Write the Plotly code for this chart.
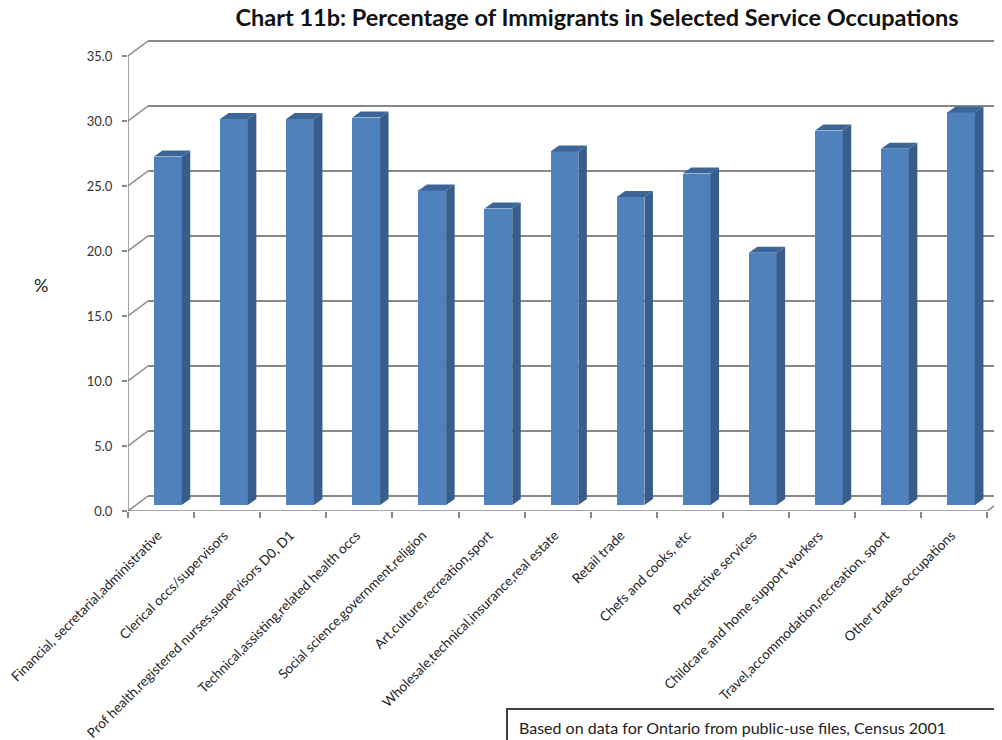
import plotly.graph_objects as go

categories = [
    "Financial, secretarial,administrative",
    "Clerical occs/supervisors",
    "Prof health,registered nurses,supervisors D0, D1",
    "Technical,assisting,related health occs",
    "Social science,government,religion",
    "Art,culture,recreation,sport",
    "Wholesale,technical,insurance,real estate",
    "Retail trade",
    "Chefs and cooks, etc",
    "Protective services",
    "Childcare and home support workers",
    "Travel,accommodation,recreation, sport",
    "Other trades occupations",
]
values = [26.8, 29.7, 29.7, 29.8, 24.2, 22.8, 27.2, 23.7, 25.5, 19.4, 28.8, 27.4, 30.2]
y_ticks = [0, 5, 10, 15, 20, 25, 30, 35]
y_tick_labels = ["0.0", "5.0", "10.0", "15.0", "20.0", "25.0", "30.0", "35.0"]

# page offset (browser body margin) and geometry
O = 8
W, H = 1002 - O, 740 - O
ML = 128 - O
MR = 0
MT = 38 - O
MB = H - (511 - O)
PW, PH = W - ML - MR, H - MT - MB
PX_X = 66.1          # px per category slot
PX_Y = 13.0          # px per percentage point
XMAX = PW / PX_X
YMAX = PH / PX_Y
DX, DY = 20 / PX_X, 15 / PX_Y          # back-wall offset
BASE = 6 / PX_Y                         # bar front-face base (mid depth)
BW = 0.42                               # bar width (slots)
BOFF = 0.603                            # bar centre within slot
DDX, DDY = 8.5 / PX_X, 6 / PX_Y         # bar depth
N = len(categories)


def px_to_paper_x(sx):
    return (sx - O - ML) / PW


def px_to_paper_y(sy):
    return (H - MB - (sy - O)) / PH


GRID = "#888888"
FRONT = "#4F81BD"
SIDE = "#385D8A"
TOP = "#3D6698"

fig = go.Figure()

# front faces
xc = [i + BOFF for i in range(N)]
fig.add_trace(go.Bar(
    x=xc, y=values, base=[BASE] * N, width=BW,
    marker=dict(color=FRONT, line=dict(width=0)),
    hoverinfo="skip", showlegend=False,
))

# side and top faces
sx, sy, tx, ty = [], [], [], []
for c, v in zip(xc, values):
    xl, xr = c - BW / 2, c + BW / 2
    top = BASE + v
    sx += [xr, xr + DDX, xr + DDX, xr, xr, None]
    sy += [BASE, BASE + DDY, top + DDY, top, BASE, None]
    tx += [xl, xl + DDX, xr + DDX, xr, xl, None]
    ty += [top, top + DDY, top + DDY, top, top, None]
fig.add_trace(go.Scatter(x=sx, y=sy, fill="toself", fillcolor=SIDE, mode="lines",
                         line=dict(width=0, color=SIDE), hoverinfo="skip", showlegend=False))
fig.add_trace(go.Scatter(x=tx, y=ty, fill="toself", fillcolor=TOP, mode="lines",
                         line=dict(width=0, color=TOP), hoverinfo="skip", showlegend=False))

# walls / grid (below traces)
shapes = []
for v in y_ticks:
    shapes.append(dict(type="line", xref="x", yref="y", x0=0, y0=v, x1=DX, y1=v + DY,
                       line=dict(color=GRID, width=1.5), layer="below"))
    shapes.append(dict(type="line", xref="x", yref="y", x0=DX, y0=v + DY, x1=XMAX + 1, y1=v + DY,
                       line=dict(color=GRID, width=2), layer="below"))
# front axes
shapes.append(dict(type="line", xref="x", yref="y", x0=0, y0=0, x1=0, y1=y_ticks[-1],
                   line=dict(color=GRID, width=1.5), layer="below"))
shapes.append(dict(type="line", xref="x", yref="y", x0=0, y0=0, x1=N, y1=0,
                   line=dict(color=GRID, width=1.5), layer="below"))
shapes.append(dict(type="line", xref="x", yref="y", x0=N, y0=0, x1=N + DX, y1=DY,
                   line=dict(color=GRID, width=1.5), layer="below"))
# footnote box
shapes.append(dict(type="rect", xref="paper", yref="paper",
                   x0=px_to_paper_x(507), x1=px_to_paper_x(1012),
                   y0=px_to_paper_y(760), y1=px_to_paper_y(709),
                   line=dict(color="#404040", width=2), fillcolor="white", layer="above"))

fig.update_layout(
    width=W, height=H,
    margin=dict(l=ML, r=MR, t=MT, b=MB, autoexpand=False),
    paper_bgcolor="white", plot_bgcolor="white",
    font=dict(family="Lato, Carlito, sans-serif", color="#222222"),
    shapes=shapes,
    bargap=0,
    title=dict(text="<b>Chart 11b: Percentage of Immigrants in Selected Service Occupations</b>",
               x=(597 - O) / W, xanchor="center", y=1 - 2 / H, yanchor="top", pad=dict(t=0, b=0),
               font=dict(size=23.5, color="#111111", family="Lato, sans-serif")),
    xaxis=dict(range=[0, XMAX], showgrid=False, zeroline=False, showline=False,
               automargin=False,
               tickmode="array", tickvals=[i + 0.455 for i in range(N)], ticktext=categories,
               tickangle=-45, ticks="", ticklabelstandoff=13, ticklabeloverflow="allow",
               tickfont=dict(size=13.5, color="#222222"),
               minor=dict(tickmode="array", tickvals=list(range(N + 1)), ticks="outside",
                          ticklen=6, tickcolor=GRID, tickwidth=1.5, showgrid=False),
               fixedrange=True),
    yaxis=dict(range=[0, YMAX], showgrid=False, zeroline=False, showline=False,
               automargin=False,
               tickmode="array", tickvals=y_ticks, ticktext=y_tick_labels,
               ticks="outside", ticklen=5, tickcolor=GRID, tickwidth=1.5,
               ticklabelstandoff=7,
               tickfont=dict(size=13, color="#333333"), fixedrange=True),
    annotations=[
        dict(text="%", xref="paper", yref="paper",
             x=px_to_paper_x(32), y=px_to_paper_y(285),
             showarrow=False, font=dict(size=18, color="#222222")),
        dict(text="Based on data for Ontario from public-use files, Census 2001",
             xref="paper", yref="paper", xanchor="left", yanchor="middle",
             x=px_to_paper_x(517), y=px_to_paper_y(727),
             showarrow=False, font=dict(size=16, color="#222222")),
    ],
)

fig.write_html("out.html")
